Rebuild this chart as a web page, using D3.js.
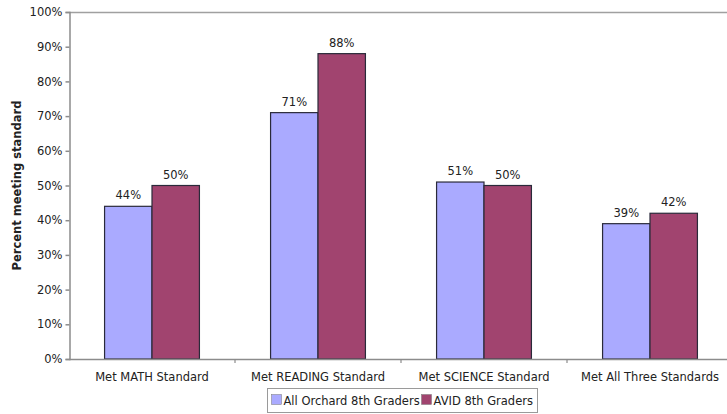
<!DOCTYPE html>
<html>
<head>
<meta charset="utf-8">
<script src="https://cdn.jsdelivr.net/npm/d3@7"></script>
<style>
  body { margin: 0; background: #fff; }
  text { font-family: "DejaVu Sans", Verdana, sans-serif; fill: #222; }
</style>
</head>
<body>
<div id="chart"></div>
<script>
var categories = ["Met MATH Standard", "Met READING Standard", "Met SCIENCE Standard", "Met All Three Standards"];
var seriesNames = ["All Orchard 8th Graders", "AVID 8th Graders"];
var orchard = [44, 71, 51, 39];
var avid = [50, 88, 50, 42];
var yTicks = [0, 10, 20, 30, 40, 50, 60, 70, 80, 90, 100];
var colors = ["#aaaaff", "#a1446f"];

function draw_barchart() {
    var W = 727, H = 414;
    var left = 69, top = 12, right = 733, bottom = 359;

    var rows = categories.map(function(c, i) {
        return {cat: c, vals: [orchard[i], avid[i]]};
    });

    var x = d3.scaleBand().domain(categories).range([left, right]);
    var xs = d3.scaleBand().domain(seriesNames).range([0, x.bandwidth()]).paddingOuter(0.75);
    var y = d3.scaleLinear().domain([0, 100]).range([bottom, top]);

    var svg = d3.select("#chart").append("svg")
        .attr("width", W).attr("height", H);

    // plot border top
    svg.append("line")
        .attr("x1", left).attr("x2", W).attr("y1", top + 0.5).attr("y2", top + 0.5)
        .attr("stroke", "#a0a0a0").attr("stroke-width", 1.5);

    var yAxis = d3.axisLeft(y).tickValues(yTicks).tickSize(4).tickPadding(3)
        .tickFormat(function(d) { return d + "%"; });
    var gy = svg.append("g").attr("transform", "translate(" + (left + 0.5) + ",0)").call(yAxis);
    gy.selectAll("path, line").attr("stroke", "#8c8c8c").attr("stroke-width", 1.5);
    gy.selectAll("text").style("font-size", "11.5px").attr("fill", "#222");

    // bars
    var g = svg.selectAll(".grp").data(rows).enter().append("g")
        .attr("transform", function(d) { return "translate(" + x(d.cat) + ",0)"; });
    g.selectAll("rect").data(function(d) { return d.vals; }).enter().append("rect")
        .attr("x", function(d, i) { return xs(seriesNames[i]); })
        .attr("width", xs.bandwidth())
        .attr("y", function(d) { return y(d); })
        .attr("height", function(d) { return bottom - y(d); })
        .attr("fill", function(d, i) { return colors[i]; })
        .attr("stroke", "#2a2a3a").attr("stroke-width", 1.2);
    g.selectAll(".val").data(function(d) { return d.vals; }).enter().append("text")
        .attr("x", function(d, i) { return xs(seriesNames[i]) + xs.bandwidth() / 2; })
        .attr("y", function(d) { return y(d) - 7; })
        .attr("text-anchor", "middle")
        .style("font-size", "11.5px")
        .text(function(d) { return d + "%"; });

    // x axis
    svg.append("line")
        .attr("x1", left).attr("x2", W).attr("y1", bottom + 0.5).attr("y2", bottom + 0.5)
        .attr("stroke", "#8c8c8c").attr("stroke-width", 1.5);
    svg.selectAll(".xtick").data(categories.slice(1)).enter().append("line")
        .attr("x1", function(d) { return x(d); }).attr("x2", function(d) { return x(d); })
        .attr("y1", bottom).attr("y2", bottom + 4)
        .attr("stroke", "#8c8c8c").attr("stroke-width", 1.2);
    svg.selectAll(".xlab").data(categories).enter().append("text")
        .attr("x", function(d) { return x(d) + x.bandwidth() / 2; })
        .attr("y", 381)
        .attr("text-anchor", "middle")
        .style("font-size", "11.5px")
        .text(function(d) { return d; });

    // y title
    svg.append("text")
        .attr("transform", "translate(21," + ((top + bottom) / 2) + ") rotate(-90)")
        .attr("text-anchor", "middle")
        .style("font-size", "11.5px").style("font-weight", "bold")
        .attr("fill", "#111")
        .text("Percent meeting standard");

    // legend
    var lg = svg.append("g").attr("transform", "translate(267.5,388.5)");
    lg.append("rect").attr("width", 270).attr("height", 24)
        .attr("fill", "#fff").attr("stroke", "#9a9a9a");
    var lx = [4, 154];
    seriesNames.forEach(function(s, i) {
        lg.append("rect").attr("x", lx[i]).attr("y", 6).attr("width", 10).attr("height", 10)
            .attr("fill", colors[i]).attr("stroke", "#777").attr("stroke-width", 0.5);
        lg.append("text").attr("x", lx[i] + 12).attr("y", 16)
            .style("font-size", "11.5px").text(s);
    });
}

draw_barchart();
</script>
</body>
</html>
